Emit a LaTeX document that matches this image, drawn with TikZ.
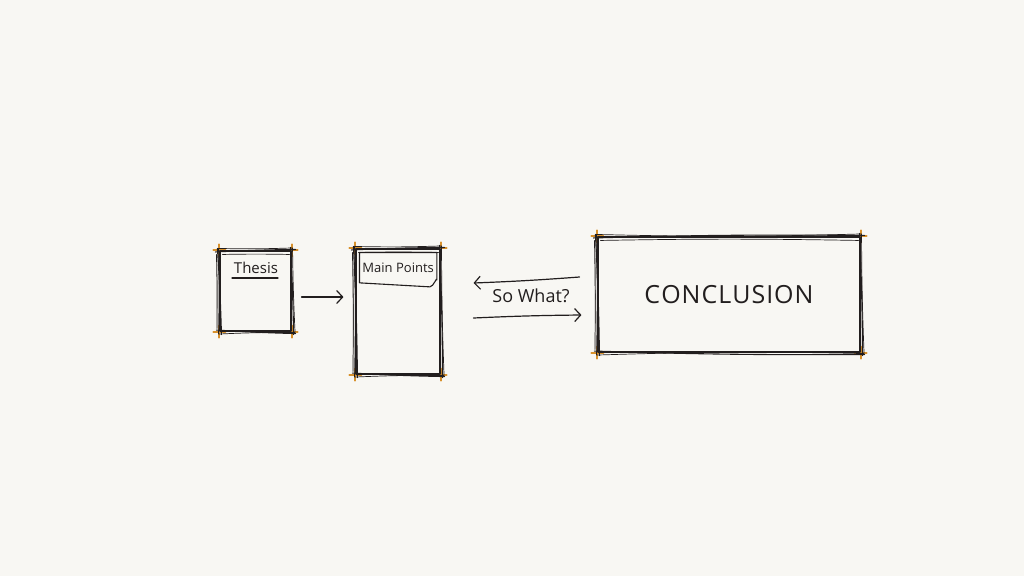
\documentclass[tikz,border=0pt]{standalone}
\usepackage{fontspec}
\setmainfont{Open Sans}
\usetikzlibrary{arrows.meta}
\definecolor{paper}{HTML}{F8F7F3}
\definecolor{ink}{HTML}{221E1E}
\definecolor{marker}{HTML}{D8912C}
\pgfdeclarelayer{bg}
\pgfsetlayers{bg,main}
\tikzset{
  pen/.style={draw=ink, line width=1.1pt, line cap=round, line join=round},
  thin pen/.style={draw=ink, line width=0.7pt, line cap=round, line join=round},
  box/.style={pen, minimum width=#1, inner sep=0pt},
  arr/.style={draw=ink, line width=1.2pt, line cap=round, -{Straight Barb[length=6pt,width=13pt,line width=1.2pt]}},
  tick/.style={draw=marker, line width=2pt, line cap=round},
  hand/.style={text=ink, font=#1},
}
\newcommand\sketchbox[1]{%
  \draw[pen] ([shift={(-4,1.5)}]#1.north west) to[bend left=1] ([shift={(4,-1)}]#1.north east);
  \draw[pen] ([shift={(-1,-3)}]#1.north east) to[bend left=1] ([shift={(2,3)}]#1.south east);
  \draw[pen] ([shift={(4,2)}]#1.south east) to[bend left=1] ([shift={(-3,-1.5)}]#1.south west);
  \draw[pen] ([shift={(2,3)}]#1.south west) to[bend right=1] ([shift={(-2,-2)}]#1.north west);
  \draw[thin pen] ([shift={(-1,-2)}]#1.north west) to[bend right=1.5] ([shift={(1,-2.5)}]#1.north east)
     to[bend right=1] ([shift={(3.5,1)}]#1.south east) to[bend right=1.5] ([shift={(-1,2.5)}]#1.south west)
     to[bend left=1] cycle;
  \draw[thin pen] ([shift={(3,4)}]#1.north west) to[bend left=1] ([shift={(-2,4)}]#1.north east);
  \draw[thin pen] ([shift={(-3,4)}]#1.north west) to[bend left=0.8] ([shift={(-2.5,-3)}]#1.south west);
  \begin{pgfonlayer}{bg}
    \foreach \a in {north west,north east,south west,south east}{
      \draw[tick] ([shift={(-6,0)}]#1.\a) -- ([shift={(6,0)}]#1.\a);
      \draw[tick] ([shift={(0,-6)}]#1.\a) -- ([shift={(0,6)}]#1.\a);
    }
  \end{pgfonlayer}
}
\begin{document}
\begin{tikzpicture}[x=1pt,y=-1pt]
\begin{pgfonlayer}{bg}
\fill[paper] (0,0) rectangle (1024,576);
\end{pgfonlayer}
\useasboundingbox (0,0) rectangle (1024,576);

% Thesis
\node[box=71pt, minimum height=80pt] (th) at (255.5,291) {};
\node[hand=\fontsize{15}{17}\selectfont] (tht) at (256,268) {Thesis};
\draw[pen] ([shift={(-24,10)}]tht.center) -- ([shift={(22,10)}]tht.center);
\sketchbox{th}

% Main Points
\node[box=84pt, minimum height=125pt] (mp) at (398,311.5) {};
\node[anchor=north west, minimum width=77pt, minimum height=30pt, inner sep=0pt,
      hand=\fontsize{13}{15}\selectfont] (mpl) at ([shift={(4,4)}]mp.north west) {Main Points};
\draw[pen] (mpl.north east) -- (mpl.north west) -- (mpl.south west)
   -- ([shift={(-7,4)}]mpl.south east) to[out=0,in=90] ([shift={(0,-3)}]mpl.south east) -- (mpl.north east);
\sketchbox{mp}

% Conclusion
\node[box=262pt, minimum height=115pt, hand=\fontsize{25}{29}\selectfont] (co) at (729,294.5)
  {C\kern1pt O\kern1pt N\kern1pt C\kern1pt L\kern1pt U\kern1pt S\kern1pt I\kern1pt O\kern1pt N};
\sketchbox{co}

% connectors
\draw[arr] ([shift={(10,6)}]th.east) -- ([shift={(-12,-14.5)}]mp.west);
\draw[arr] ([shift={(-18,-17.5)}]co.west) to[bend left=1] ([shift={(33,-28.5)}]mp.east);
\draw[arr] ([shift={(33,6.5)}]mp.east) to[bend left=1] ([shift={(-16,20.5)}]co.west);
\node[hand=\fontsize{18}{20}\selectfont] (sw) at (531,296) {So What?};
\end{tikzpicture}
\end{document}
